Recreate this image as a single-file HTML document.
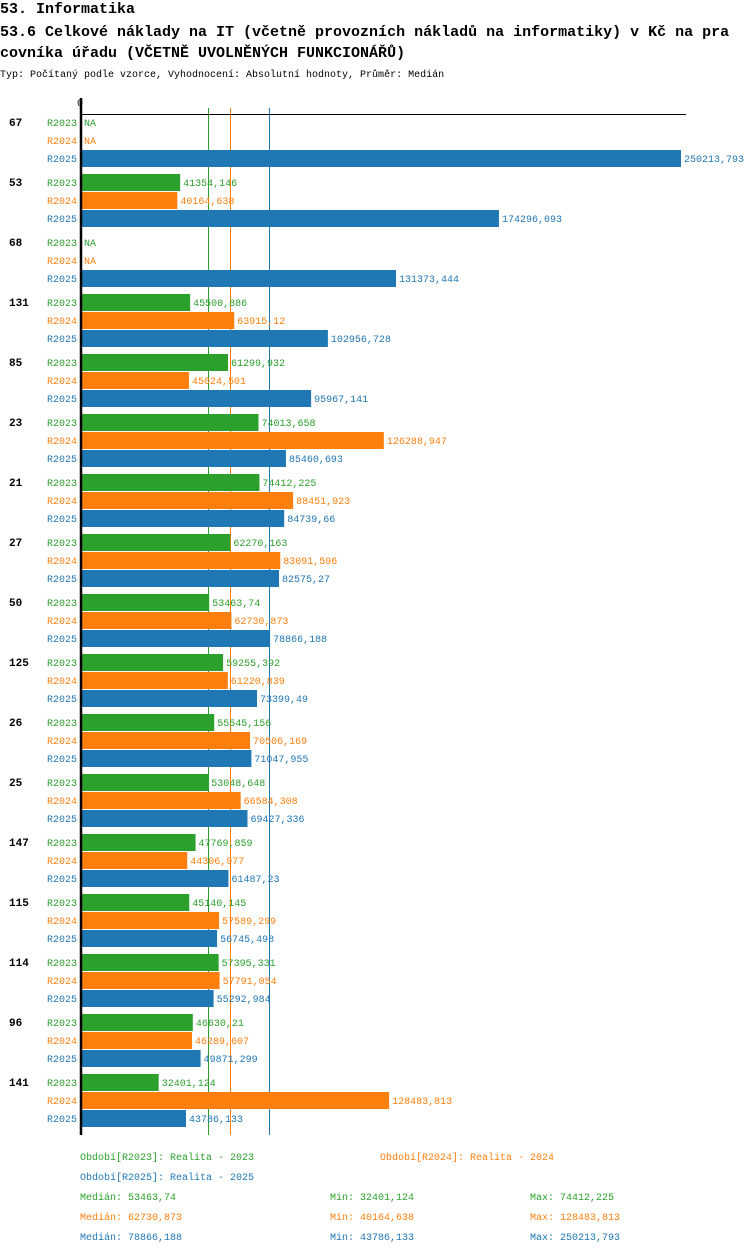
<!DOCTYPE html>
<html><head><meta charset="utf-8"><style>
body{margin:0;background:#fff;width:750px;height:1254px;overflow:hidden;font-family:"Liberation Mono",monospace}
svg text{font-family:"Liberation Mono",monospace}
</style></head><body>
<svg id="c" width="750" height="1254" xmlns="http://www.w3.org/2000/svg">
<text x="0" y="13" font-size="15" font-weight="bold">53. Informatika</text>
<text x="0" y="36" font-size="15" font-weight="bold">53.6 Celkové náklady na IT (včetně provozních nákladů na informatiky) v Kč na pra</text>
<text x="0" y="57" font-size="15" font-weight="bold">covníka úřadu (VČETNĚ UVOLNĚNÝCH FUNKCIONÁŘŮ)</text>
<text x="0" y="77" font-size="10">Typ: Počítaný podle vzorce, Vyhodnocení: Absolutní hodnoty, Průměr: Medián</text>
</svg>
<script>
const groups=["67","53","68","131","85","23","21","27","50","125","26","25","147","115","114","96","141"];
const r2023=[null,41354.146,null,45500.886,61299.932,74013.658,74412.225,62270.163,53463.74,59255.392,55545.156,53048.648,47769.859,45140.145,57395.331,46630.21,32401.124];
const r2024=[null,40164.638,null,63915.12,45024.501,126288.947,88451.923,83091.596,62730.873,61220.839,70506.169,66584.308,44306.977,57589.299,57791.054,46289.607,128483.813];
const r2025=[250213.793,174296.093,131373.444,102956.728,95967.141,85460.693,84739.66,82575.27,78866.188,73399.49,71047.955,69427.336,61487.23,56745.498,55292.984,49871.299,43786.133];
const seriesNames=["R2023","R2024","R2025"];
const medians=[53463.74,62730.873,78866.188];
const mins=[32401.124,40164.638,43786.133];
const maxs=[74412.225,128483.813,250213.793];
const colors=["#2ca02c","#ff7f0e","#1f77b4"];
const svg=document.getElementById('c');
const NS="http://www.w3.org/2000/svg";
const x0=81, maxV=250213.793, W=600;
const xs=v=>x0+v/maxV*W;
const ys=(g,s)=>113+60*g+18*s;
function fmt(v){return String(v).replace('.',',');}
function mk(tag,attrs,txt){const e=document.createElementNS(NS,tag);for(const k in attrs)e.setAttribute(k,attrs[k]);if(txt!==undefined)e.textContent=txt;svg.appendChild(e);return e;}
medians.forEach((m,i)=>{
  const px=Math.round(xs(m))-0.5;
  let ln=mk('line',{x1:px,x2:px,y1:108,y2:1135,stroke:colors[i],'stroke-width':1});
  
  
});
const all=[r2023,r2024,r2025];
groups.forEach((g,gi)=>{
  let t=mk('text',{x:9,y:ys(gi,0)+13,'font-size':11,'font-weight':'bold'},g);
  
  
  all.forEach((arr,si)=>{
    const y=ys(gi,si);
    let l=mk('text',{x:47,y:y+13,'font-size':10,fill:colors[si]},seriesNames[si]);
    
    
    const v=arr[gi];
    if(v===null){
      let n=mk('text',{x:x0+3,y:y+13,'font-size':10,fill:colors[si]},'NA');
      
      
    }else{
      let b=mk('rect',{x:x0,y:y+1,width:xs(v)-x0,height:17,fill:colors[si]});
      
      
      let vl=mk('text',{x:xs(v)+3,y:y+13,'font-size':10,fill:colors[si]},fmt(v));
      
      
    }
  });
});
let ax=mk('line',{x1:x0,x2:x0,y1:98,y2:1135,stroke:'#000','stroke-width':2.5});


let tp=mk('line',{x1:x0,x2:686,y1:114.5,y2:114.5,stroke:'#000','stroke-width':1});


let z=mk('text',{x:77,y:106,'font-size':10},'0');


const legendPos=[[80,1160],[380,1160],[80,1180]];
const years=["2023","2024","2025"];
seriesNames.forEach((s,i)=>{
  let e=mk('text',{x:legendPos[i][0],y:legendPos[i][1],'font-size':10,fill:colors[i]},'Období['+s+']: Realita - '+years[i]);
  
  
  const y=1200+20*i;
  let a=mk('text',{x:80,y:y,'font-size':10,fill:colors[i]},'Medián: '+fmt(medians[i]));
  
  
  let b=mk('text',{x:330,y:y,'font-size':10,fill:colors[i]},'Min: '+fmt(mins[i]));
  
  
  let c=mk('text',{x:530,y:y,'font-size':10,fill:colors[i]},'Max: '+fmt(maxs[i]));
  
  
});
</script>
</body></html>
